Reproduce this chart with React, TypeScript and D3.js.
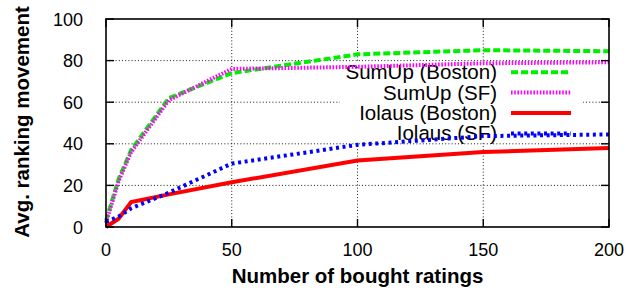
import React from "react";
import * as d3 from "d3";

// bought ratings on x axis
const boughtRatings = [0, 5, 10, 25, 50, 100, 150, 200];

const sumUpBoston = [3, 23, 37, 62, 74, 83, 85, 84.5];
const sumUpSF = [2, 22, 36, 61, 76, 77, 78.7, 79.2];
const iolausBoston = [0, 4, 12, 15.7, 21.5, 32, 36, 38];
const iolausSF = [2.5, 5, 9, 16.5, 30.5, 39.5, 43.7, 44.5];

const xTicks = [0, 50, 100, 150, 200];
const yTicks = [0, 20, 40, 60, 80, 100];

const seriesNames = ["SumUp (Boston)", "SumUp (SF)", "Iolaus (Boston)", "Iolaus (SF)"];
const seriesValues = [sumUpBoston, sumUpSF, iolausBoston, iolausSF];
const seriesColors = ["#00ee00", "#ff00ff", "#ff0000", "#0000ff"];
const seriesDash = ["7,3", "1.6,1.6", "", "3,3.6"];

const W = 638;
const H = 290;
const m = { left: 106, right: 29, top: 19, bottom: 63 };
const font = "'Liberation Sans', Arial, Helvetica, sans-serif";

const App: React.FC = () => {
  const x = d3.scaleLinear().domain([0, 200]).range([m.left, W - m.right]);
  const y = d3.scaleLinear().domain([0, 100]).range([H - m.bottom, m.top]);

  const line = d3
    .line<number>()
    .x((_, i) => x(boughtRatings[i]))
    .y((d) => y(d));

  const x0 = x(0), x1 = x(200), y0 = y(0), y1 = y(100);
  const tick = 8;

  // legend box (opaque) hides the grid behind it
  const legRight = 497;
  const legTop = 62;
  const rowH = 20.4;
  const sampleX0 = 511;
  const sampleX1 = 571;

  return (
    <svg width={W} height={H} style={{ position: "absolute", left: 0, top: 0, background: "#fff" }}>
      {/* grid */}
      <g stroke="#000" strokeWidth={0.9} strokeDasharray="1,2.2">
        {xTicks.slice(1, -1).map((t) => (
          <line key={"gx" + t} x1={x(t)} x2={x(t)} y1={y0} y2={y1} />
        ))}
        {yTicks.slice(1, -1).map((t) => (
          <line key={"gy" + t} x1={x0} x2={x1} y1={y(t)} y2={y(t)} />
        ))}
      </g>
      <rect x={340} y={legTop} width={243} height={81} fill="#fff" />

      {/* legend text */}
      <g fontFamily={font} fontSize={20.5} fill="#000" textAnchor="end">
        {seriesNames.map((n, i) => (
          <text key={n} x={legRight} y={legTop + rowH * (i + 0.5) + 7}>
            {n}
          </text>
        ))}
      </g>

      {/* series */}
      {seriesValues.map((vals, i) => (
        <path
          key={seriesNames[i]}
          d={line(vals) ?? ""}
          fill="none"
          stroke={seriesColors[i]}
          strokeWidth={4}
          strokeDasharray={seriesDash[i] || undefined}
        />
      ))}

      {/* legend samples */}
      {seriesNames.map((n, i) => (
        <line
          key={"s" + n}
          x1={sampleX0}
          x2={sampleX1}
          y1={legTop + rowH * (i + 0.5)}
          y2={legTop + rowH * (i + 0.5)}
          stroke={seriesColors[i]}
          strokeWidth={4}
          strokeDasharray={seriesDash[i] || undefined}
        />
      ))}

      {/* frame and ticks */}
      <rect x={x0} y={y1} width={x1 - x0} height={y0 - y1} fill="none" stroke="#000" strokeWidth={1.6} />
      <g stroke="#000" strokeWidth={1.4}>
        {xTicks.map((t) => (
          <g key={"tx" + t}>
            <line x1={x(t)} x2={x(t)} y1={y0} y2={y0 - tick} />
            <line x1={x(t)} x2={x(t)} y1={y1} y2={y1 + tick} />
          </g>
        ))}
        {yTicks.map((t) => (
          <g key={"ty" + t}>
            <line x1={x0} x2={x0 + tick} y1={y(t)} y2={y(t)} />
            <line x1={x1} x2={x1 - tick} y1={y(t)} y2={y(t)} />
          </g>
        ))}
      </g>

      {/* tick labels */}
      <g fontFamily={font} fontSize={18} fill="#000">
        {xTicks.map((t) => (
          <text key={"lx" + t} x={x(t)} y={y0 + 29} textAnchor="middle">
            {t}
          </text>
        ))}
        {yTicks.map((t) => (
          <text key={"ly" + t} x={x0 - 23} y={y(t) + 6.5} textAnchor="end">
            {t}
          </text>
        ))}
      </g>

      {/* axis titles */}
      <text
        x={(x0 + x1) / 2}
        y={283}
        textAnchor="middle"
        fontFamily={font}
        fontSize={20.5}
        fontWeight="bold"
      >
        Number of bought ratings
      </text>
      <text
        transform={`translate(29,${(y0 + y1) / 2 - 1}) rotate(-90)`}
        textAnchor="middle"
        fontFamily={font}
        fontSize={20.5}
        fontWeight="bold"
      >
        Avg. ranking movement
      </text>
    </svg>
  );
};

export default App;
